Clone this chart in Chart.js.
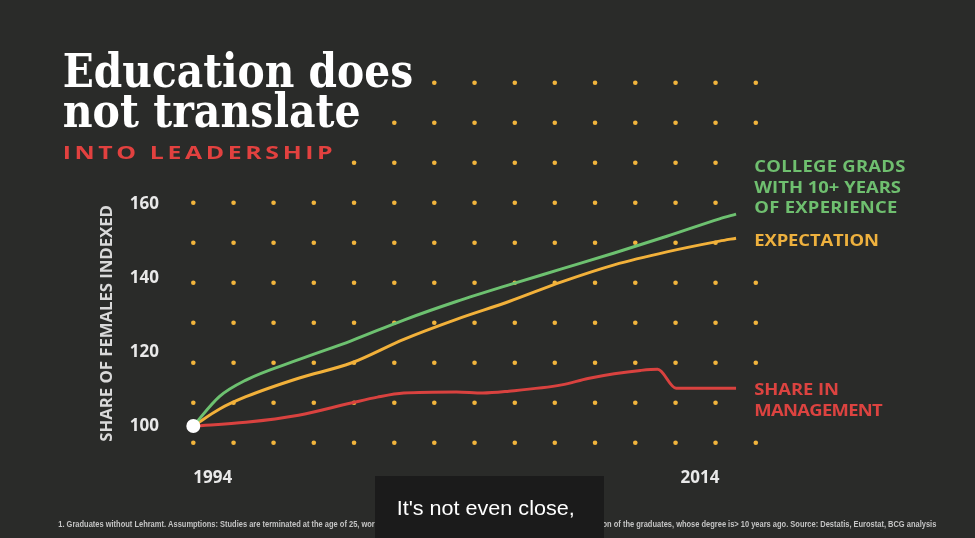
<!DOCTYPE html>
<html>
<head>
<meta charset="utf-8">
<script src="https://cdn.jsdelivr.net/npm/chart.js@4.4.1/dist/chart.umd.min.js"></script>
<style>
  html, body { margin: 0; padding: 0; background: #2a2b29; overflow: hidden; }
  canvas { display: block; }
</style>
</head>
<body>
<canvas id="chart" width="975" height="538"></canvas>
<script>
// ---------- data ----------
const yearTicks = [1994, 2014];
const valueTicks = [100, 120, 140, 160];

const gradYears  = [1994, 1995, 1996, 1998, 2000, 2002, 2004, 2006, 2008, 2010, 2012, 2014, 2014.63];
const gradValues = [100, 108.0, 112.4, 117.9, 123.0, 128.6, 133.6, 138.1, 142.4, 146.7, 151.2, 155.9, 157.2];

const expectYears  = [1994, 1995, 1996, 1998, 2000, 2002, 2004, 2006, 2008, 2010, 2012, 2014, 2014.63];
const expectValues = [100, 104.6, 107.9, 112.9, 117.0, 123.4, 128.8, 133.6, 138.9, 143.5, 147.0, 149.9, 150.7];

const mgmtYears  = [1994, 1996, 1998, 2000, 2001, 2002, 2004, 2005, 2006, 2008, 2009, 2010, 2011, 2011.65, 2012.35, 2014, 2014.63];
const mgmtValues = [100, 101.0, 102.9, 106.2, 107.8, 108.9, 109.2, 108.9, 109.4, 111.1, 112.8, 114.1, 115.0, 115.3, 110.2, 110.2, 110.2];

const startYear = [1994];
const startValue = [100];

// decorative dot grid (column years, row levels, and which columns each row shows)
const dotColumns = [1994.00, 1995.53, 1997.05, 1998.58, 2000.11, 2001.64, 2003.16, 2004.69,
                    2006.22, 2007.74, 2009.27, 2010.80, 2012.33, 2013.85, 2015.38];
const dotRows = [192.66, 181.86, 171.07, 160.27, 149.47, 138.68, 127.88, 117.08, 106.29, 95.49];
const dotRowFirst = [6, 5, 4, 0, 0, 0, 0, 0, 0, 0];
const dotRowLast  = [14, 14, 13, 13, 13, 14, 14, 14, 13, 14];

// ---------- build library tables ----------
const pairs = (xs, ys) => xs.map((x, i) => ({ x: x, y: ys[i] }));
const dotData = [];
dotRows.forEach((lvl, r) => {
  for (let k = dotRowFirst[r]; k <= dotRowLast[r]; k++) dotData.push({ x: dotColumns[k], y: lvl });
});

const GREEN = '#6dc170', YELLOW = '#f2b13a', RED = '#d9423f';

// draws text with glyphs stretched by sx and spacing chosen so the run spans `width`
function drawSpaced(ctx, text, x, y, width, font, color, sx) {
  sx = sx || 1;
  ctx.save();
  ctx.font = font; ctx.fillStyle = color; ctx.textAlign = 'left'; ctx.textBaseline = 'alphabetic';
  const chars = Array.from(text);
  const ws = chars.map(c => ctx.measureText(c).width * sx);
  const nat = ws.reduce((a, b) => a + b, 0);
  const sp = chars.length > 1 ? (width - nat) / (chars.length - 1) : 0;
  let cx = x;
  chars.forEach((c, i) => {
    ctx.save(); ctx.translate(cx, y); ctx.scale(sx, 1); ctx.fillText(c, 0, 0); ctx.restore();
    cx += ws[i] + sp;
  });
  ctx.restore();
}
function drawScaled(ctx, text, x, y, width, font, color) {
  ctx.save();
  ctx.font = font; ctx.fillStyle = color; ctx.textAlign = 'left'; ctx.textBaseline = 'alphabetic';
  const nat = ctx.measureText(text).width;
  ctx.translate(x, y); ctx.scale(width / nat, 1);
  ctx.fillText(text, 0, 0);
  ctx.restore();
}

const backgroundPlugin = {
  id: 'bg',
  beforeDraw(chart) {
    const ctx = chart.ctx;
    ctx.save(); ctx.fillStyle = '#2a2b29'; ctx.fillRect(0, 0, chart.width, chart.height); ctx.restore();
  }
};

const textPlugin = {
  id: 'texts',
  afterDraw(chart) {
    const ctx = chart.ctx;
    // title
    drawScaled(ctx, 'Education does', 62.7, 86.7, 350.5, 'bold 46px "DejaVu Serif"', '#ffffff');
    drawScaled(ctx, 'not translate', 62.7, 127.3, 298, 'bold 46px "DejaVu Serif"', '#ffffff');
    drawSpaced(ctx, 'INTO LEADERSHIP', 62.7, 159.3, 270, 'bold 18px "Open Sans"', '#e2413f', 1.38);

    // y axis title
    ctx.save();
    ctx.translate(111.7, 441.7);
    ctx.rotate(-Math.PI / 2);
    drawSpaced(ctx, 'SHARE OF FEMALES INDEXED', 0, 0, 236.7, 'bold 16px "Open Sans"', '#d9d9d9', 1.05);
    ctx.restore();

    // series labels
    const lf = 'bold 16px "Open Sans"';
    drawSpaced(ctx, 'COLLEGE GRADS', 754.3, 171.7, 151, lf, '#6fbf6f', 1.15);
    drawSpaced(ctx, 'WITH 10+ YEARS', 754.3, 192.5, 146.7, lf, '#6fbf6f', 1.15);
    drawSpaced(ctx, 'OF EXPERIENCE', 754.3, 213.3, 143, lf, '#6fbf6f', 1.15);
    drawSpaced(ctx, 'EXPECTATION', 754.3, 245.7, 124.7, lf, '#eeb13e', 1.15);
    drawSpaced(ctx, 'SHARE IN', 754.3, 395, 84.7, lf, '#dc4340', 1.15);
    drawSpaced(ctx, 'MANAGEMENT', 754.3, 415.5, 128.4, lf, '#dc4340', 1.15);

    // footnote
    drawScaled(ctx, '1. Graduates without Lehramt. Assumptions: Studies are terminated at the age of 25, work until the age of 65 / 40 years of professional activity. \u00B2Cumulation of the graduates, whose degree is> 10 years ago. Source: Destatis, Eurostat, BCG analysis',
      58.3, 527, 878, 'bold 8.5px "Liberation Sans"', '#c4c4c4');

    // caption overlay
    ctx.save();
    ctx.fillStyle = '#1b1b1b';
    ctx.fillRect(375, 476, 229, 62);
    ctx.restore();
    drawScaled(ctx, "It's not even close,", 396.7, 515, 178, '21px "Liberation Sans"', '#ffffff');
  }
};

const tickFont = { family: 'Open Sans', weight: 'bold', size: 17 };

new Chart(document.getElementById('chart'), {
  type: 'scatter',
  data: {
    datasets: [
      {
        label: 'start', data: pairs(startYear, startValue), order: 0,
        pointRadius: 7, pointBackgroundColor: '#ffffff', pointBorderWidth: 0, showLine: false
      },
      {
        label: 'College grads with 10+ years of experience', data: pairs(gradYears, gradValues), order: 1,
        showLine: true, borderColor: GREEN, borderWidth: 3, pointRadius: 0,
        cubicInterpolationMode: 'monotone', fill: false
      },
      {
        label: 'Expectation', data: pairs(expectYears, expectValues), order: 2,
        showLine: true, borderColor: YELLOW, borderWidth: 3, pointRadius: 0,
        cubicInterpolationMode: 'monotone', fill: false
      },
      {
        label: 'Share in management', data: pairs(mgmtYears, mgmtValues), order: 3,
        showLine: true, borderColor: RED, borderWidth: 3, pointRadius: 0,
        cubicInterpolationMode: 'monotone', fill: false
      },
      {
        label: 'dots', data: dotData, order: 10,
        showLine: false, pointRadius: 2.3, pointBackgroundColor: '#f2b53c', pointBorderWidth: 0
      }
    ]
  },
  options: {
    responsive: false,
    devicePixelRatio: 1,
    animation: false,
    events: [],
    layout: { autoPadding: false, padding: { left: 0, right: 205, top: 0, bottom: 0 } },
    plugins: { legend: { display: false }, tooltip: { enabled: false }, title: { display: false } },
    scales: {
      x: {
        type: 'linear', min: 1993.304, max: 2015.92,
        afterBuildTicks: s => { s.ticks = yearTicks.map(v => ({ value: v })); },
        afterFit: s => { s.height = 77; s.paddingLeft = 0; s.paddingRight = 0; },
        grid: { display: false, drawTicks: false },
        border: { display: false },
        ticks: {
          align: 'inner', padding: 7, color: '#e9e9e9', font: tickFont,
          maxRotation: 0, autoSkip: false, callback: v => String(v)
        }
      },
      y: {
        type: 'linear', min: 90.553, max: 214.98,
        afterBuildTicks: s => { s.ticks = valueTicks.map(v => ({ value: v })); },
        afterFit: s => { s.width = 175; s.paddingTop = 0; s.paddingBottom = 0; },
        grid: { display: false, drawTicks: false },
        border: { display: false },
        ticks: { padding: 16, color: '#e9e9e9', font: tickFont, callback: v => String(v) }
      }
    }
  },
  plugins: [backgroundPlugin, textPlugin]
});
</script>
</body>
</html>
